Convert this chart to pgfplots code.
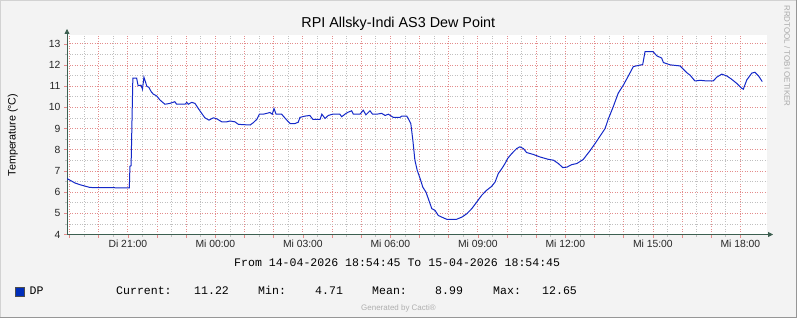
\documentclass[border=0pt]{standalone}
\usepackage{fontspec}
\setmainfont{Liberation Sans}
\newfontfamily\legmono{Liberation Mono}
\usepackage{pgfplots}
\pgfplotsset{compat=1.18}
\usetikzlibrary{arrows.meta}
\definecolor{bgc}{RGB}{243,243,243}
\definecolor{mgrid}{RGB}{228,140,140}
\definecolor{sgrid}{RGB}{192,192,192}
\definecolor{axc}{RGB}{60,95,80}
\definecolor{dpc}{RGB}{20,40,200}
\definecolor{legc}{RGB}{0,45,185}
\begin{document}
\begin{tikzpicture}[x=1bp,y=1bp]
\fill[bgc] (0,0) rectangle (797,318);
\useasboundingbox (0,0) rectangle (797,318);
\draw[color={rgb,255:red,210;green,210;blue,210}, line width=1.5bp] (0.75,0) -- (0.75,317.25) -- (797,317.25);
\draw[color={rgb,255:red,150;green,150;blue,150}, line width=1.5bp] (0,0.75) -- (796.25,0.75) -- (796.25,318);
\begin{axis}[
  at={(67bp,83.5bp)}, anchor=south west,
  scale only axis, width=700bp, height=199.5bp,
  xmin=18.9125, xmax=42.9125, ymin=4, ymax=13.42,
  axis background/.style={fill=white},
  axis lines=left,
  axis line style={axc, line width=0.8bp, -{Triangle[length=5bp,width=5bp]}, shorten >=-6bp},
  xtick={19,...,42},
  xticklabels={,,Di 21:00,,,Mi 00:00,,,Mi 03:00,,,Mi 06:00,,,Mi 09:00,,,Mi 12:00,,,Mi 15:00,,,Mi 18:00},
  ytick={4,...,13},
  minor x tick num=1, minor y tick num=1,
  grid=both,
  major grid style={mgrid, dash pattern=on 1bp off 1.5bp, line width=0.8bp},
  minor grid style={sgrid, dash pattern=on 1bp off 1.5bp, line width=0.8bp},
  tick align=outside,
  major tick length=3bp, minor tick length=2bp,
  major tick style={mgrid, line width=0.7bp},
  minor tick style={sgrid, line width=0.7bp},
  tick label style={font=\fontsize{10.4}{12}\selectfont, color=black!85},
  xticklabel style={yshift=1.5bp},
  /pgf/number format/assume math mode=true,
  clip=true,
]
\addplot[dpc, line width=1bp] coordinates {
(18.91,6.64) (19.02,6.56) (19.19,6.43) (19.36,6.35) (19.70,6.22) (21.05,6.20)
(21.07,7.22) (21.11,7.25) (21.17,11.38) (21.30,11.38) (21.35,11.03) (21.45,11.05)
(21.50,10.86) (21.55,11.43) (21.65,11.00) (21.72,10.95) (21.80,10.74) (21.87,10.63)
(21.99,10.54) (22.10,10.35) (22.27,10.15) (22.44,10.19) (22.61,10.27) (22.67,10.15)
(22.96,10.15) (23.02,10.24) (23.07,10.15) (23.19,10.24) (23.30,10.19) (23.41,9.96)
(23.53,9.72) (23.64,9.51) (23.78,9.40) (23.93,9.51) (24.05,9.46) (24.22,9.32)
(24.39,9.32) (24.50,9.36) (24.67,9.32) (24.79,9.20) (25.19,9.17) (25.30,9.28)
(25.42,9.44) (25.51,9.68) (25.64,9.68) (25.76,9.72) (25.87,9.76) (25.95,9.68)
(26.01,9.95) (26.08,9.68) (26.27,9.68) (26.45,9.40) (26.56,9.24) (26.73,9.24)
(26.84,9.30) (26.90,9.53) (27.07,9.59) (27.24,9.62) (27.34,9.44) (27.59,9.44)
(27.65,9.68) (27.76,9.48) (27.87,9.62) (28.02,9.68) (28.27,9.68) (28.33,9.56)
(28.48,9.72) (28.56,9.78) (28.67,9.84) (28.73,9.68) (28.96,9.68) (29.07,9.87)
(29.16,9.65) (29.30,9.84) (29.39,9.68) (29.53,9.68) (29.70,9.72) (29.82,9.62)
(29.93,9.68) (30.10,9.53) (30.33,9.53) (30.39,9.59) (30.56,9.59) (30.61,9.48)
(30.70,9.24) (30.77,8.45) (30.84,7.51) (30.92,7.03) (31.02,6.64) (31.11,6.24)
(31.22,6.00) (31.30,5.69) (31.42,5.22) (31.53,5.14) (31.64,4.90) (31.81,4.79)
(31.93,4.72) (32.27,4.72) (32.45,4.82) (32.62,4.98) (32.79,5.22) (32.96,5.53)
(33.13,5.85) (33.30,6.09) (33.47,6.27) (33.59,6.48) (33.70,6.88) (33.82,7.11)
(33.93,7.35) (34.02,7.59) (34.16,7.82) (34.33,8.06) (34.44,8.14) (34.56,8.06)
(34.67,7.87) (34.90,7.78) (35.13,7.66) (35.41,7.55) (35.59,7.51) (35.76,7.35)
(35.91,7.16) (36.05,7.18) (36.22,7.30) (36.39,7.35) (36.61,7.54) (36.84,7.95)
(37.02,8.30) (37.19,8.65) (37.36,9.00) (37.47,9.45) (37.64,10.03) (37.81,10.67)
(37.99,11.06) (38.16,11.49) (38.33,11.93) (38.56,12.00) (38.65,12.02) (38.73,12.63)
(39.01,12.63) (39.13,12.44) (39.30,12.33) (39.36,12.12) (39.59,12.01) (39.93,11.96)
(40.04,11.81) (40.16,11.64) (40.27,11.53) (40.44,11.25) (40.62,11.28) (40.84,11.25)
(41.07,11.25) (41.19,11.43) (41.36,11.57) (41.53,11.49) (41.70,11.33) (41.87,11.14)
(42.04,10.91) (42.10,10.86) (42.22,11.30) (42.39,11.62) (42.50,11.66) (42.62,11.49)
(42.75,11.22)
};
\end{axis}
\node[anchor=base, font=\fontsize{14.4}{16}\selectfont] at (398.3,290.7) {RPI Allsky-Indi AS3 Dew Point};
\node[anchor=base, rotate=90, font=\fontsize{10.8}{12}\selectfont, inner sep=0pt] at (15.5,183) {Temperature (°C)};
\node[anchor=base, rotate=-90, font=\fontsize{8}{9}\selectfont, color={rgb,255:red,170;green,170;blue,170}, inner sep=0pt] at (784.3,262) {RRDTOOL / TOBI OETIKER};
\node[anchor=base west, font=\legmono\fontsize{11.6}{13}\selectfont, inner sep=0pt] at (234,51.3) {From 14-04-2026 18:54:45 To 15-04-2026 18:54:45};
\fill[legc, draw=black!70, line width=0.6bp] (15.3,21.3) rectangle (23.9,30.7);
\begin{scope}[every node/.style={anchor=base west, font=\legmono\fontsize{11.6}{13}\selectfont, inner sep=0pt}]
\node at (29.5,23.3) {DP};
\node at (116,23.3) {Current:};
\node at (194,23.3) {11.22};
\node at (258,23.3) {Min:};
\node at (315,23.3) {4.71};
\node at (372,23.3) {Mean:};
\node at (435,23.3) {8.99};
\node at (493,23.3) {Max:};
\node at (542,23.3) {12.65};
\end{scope}
\node[anchor=base, font=\fontsize{8}{9}\selectfont, color={rgb,255:red,175;green,175;blue,175}, inner sep=0pt] at (398.5,8) {Generated by Cacti®};
\end{tikzpicture}
\end{document}
